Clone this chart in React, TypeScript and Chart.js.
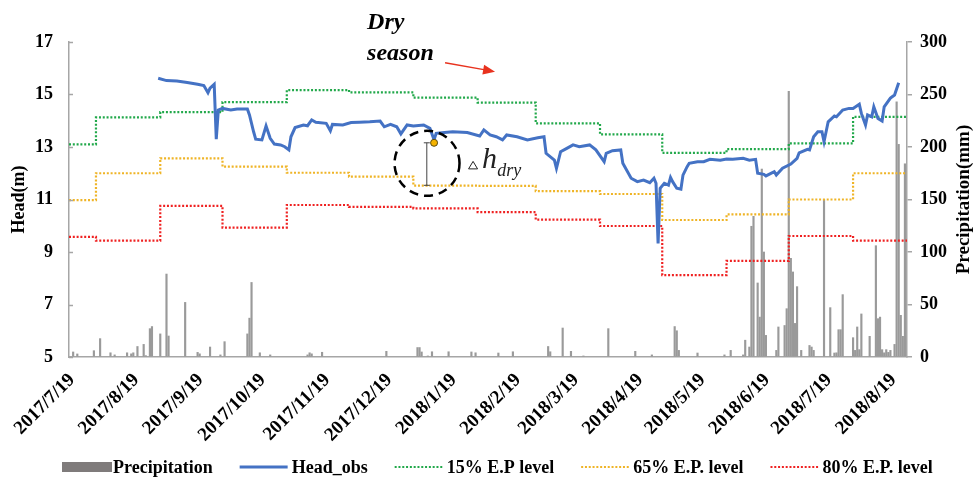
import React, { useEffect, useRef } from 'react';
import { Chart, registerables } from 'chart.js';

Chart.register(...registerables);

const FONT = "'Liberation Serif', 'Times New Roman', serif";

// ---- axis labels / categories ----
const START_DATE = '2017/7/19';
const END_DAY = 404;
const tickLabels = [
  '2017/7/19', '2017/8/19', '2017/9/19', '2017/10/19', '2017/11/19', '2017/12/19', '2018/1/19',
  '2018/2/19', '2018/3/19', '2018/4/19', '2018/5/19', '2018/6/19', '2018/7/19', '2018/8/19',
];
const monthStarts = [
  '2017/7/19', '2017/8/1', '2017/9/1', '2017/10/1', '2017/11/1', '2017/12/1', '2018/1/1',
  '2018/2/1', '2018/3/1', '2018/4/1', '2018/5/1', '2018/6/1', '2018/7/1', '2018/8/1',
];

// ---- exceedance probability levels (m), one per month ----
const ep15 = [13.1, 14.13, 14.33, 14.71, 15.17, 15.08, 14.88, 14.69, 13.9, 13.48, 12.78, 12.92, 13.14, 14.15];
const ep65 = [10.98, 12.0, 12.57, 12.25, 12.02, 11.87, 11.53, 11.52, 11.32, 11.21, 10.22, 10.43, 11.0, 12.0];
const ep80 = [9.58, 9.43, 10.76, 9.93, 10.79, 10.72, 10.66, 10.52, 10.23, 9.99, 8.12, 8.66, 9.61, 9.43];

// ---- observed head (day offset from START_DATE, m) ----
const headDay = [
  43, 47, 52, 57, 62, 65, 67, 68, 70, 71, 72, 74, 78, 81, 86, 87, 89, 90, 93, 95, 97, 99, 102, 104, 106, 107, 109,
  113, 115, 117, 119, 124, 126, 127, 132, 136, 140, 145, 150, 152, 155, 158, 160, 163, 166, 171, 174, 176, 177,
  181, 185, 192, 198, 200, 203, 206, 209, 211, 216, 221, 226, 229, 230, 234, 235, 237, 240, 243, 246, 251, 254,
  258, 259, 262, 266, 267, 271, 274, 277, 280, 282, 283, 284, 285, 287, 289, 290, 291, 293, 295, 296, 298, 299,
  303, 306, 309, 314, 317, 320, 325, 328, 331, 332, 335, 336, 340, 341, 344, 348, 351, 352, 356, 357, 359, 361,
  363, 364, 366, 369, 370, 373, 376, 378, 381, 382, 384, 385, 387, 388, 390, 392, 393, 396, 398, 400,
];
const headVal = [
  15.62, 15.53, 15.51, 15.46, 15.39, 15.34, 15.07, 15.24, 15.39, 13.3, 14.41, 14.47, 14.41, 14.45, 14.45, 14.22,
  13.58, 13.3, 13.27, 13.8, 13.33, 13.11, 13.08, 13.01, 12.89, 13.39, 13.74, 13.84, 13.81, 14.03, 13.94, 13.9,
  13.62, 13.86, 13.84, 13.93, 13.94, 13.96, 13.99, 13.77, 13.86, 13.77, 13.5, 13.84, 13.8, 13.84, 13.71, 13.27,
  13.52, 13.55, 13.58, 13.55, 13.42, 13.65, 13.46, 13.39, 13.27, 13.46, 13.39, 13.27, 13.35, 13.39, 12.76, 12.5,
  12.19, 12.82, 12.95, 13.08, 13.01, 13.08, 12.89, 12.44, 12.76, 12.86, 12.89, 12.38, 11.81, 11.68, 11.74, 11.64,
  11.81, 11.62, 9.33, 11.43, 11.62, 11.55, 11.84, 11.68, 11.43, 11.39, 11.93, 12.25, 12.38, 12.44, 12.44, 12.53,
  12.5, 12.54, 12.53, 12.57, 12.5, 12.53, 12.0, 11.96, 11.9, 12.06, 11.93, 12.19, 12.35, 12.57, 12.78, 12.91,
  12.89, 13.39, 13.58, 13.58, 13.2, 13.96, 14.18, 14.15, 14.41, 14.47, 14.47, 14.63, 14.28, 13.84, 14.22, 14.15,
  14.53, 14.09, 13.99, 14.53, 14.86, 14.98, 15.45,
];

// ---- precipitation (day offset from START_DATE, mm) ----
const precipDay = [
  2, 4, 12, 15, 20, 22, 28, 30, 31, 33, 36, 37, 39, 40, 44, 47, 48, 56, 62, 63, 68, 73, 75, 86, 87, 88, 92, 97,
  115, 116, 117, 122, 153, 168, 169, 170, 173, 175, 183, 194, 196, 207, 214, 231, 232, 238, 242, 248, 260, 273,
  281, 292, 293, 294, 303, 316, 319, 325, 326, 328, 329, 330, 332, 333, 334, 335, 336, 341, 342, 345, 346, 347,
  348, 349, 350, 351, 353, 357, 358, 359, 364, 367, 369, 370, 371, 372, 373, 378, 379, 380, 381, 382, 386, 389,
  390, 391, 392, 393, 394, 395, 396, 398, 399, 400, 401, 402, 403,
];
const precipMm = [
  4.8, 2.9, 6, 17.5, 4, 2, 4, 3, 4, 10, 12, 1.3, 27, 29, 22, 79, 20, 52, 4.4, 3, 9.5, 2, 14.6, 22, 37, 71, 4, 2,
  2, 4, 3, 4.5, 5.4, 9, 9, 4.8, 1, 5, 5, 4.8, 4, 3.8, 5, 10, 5, 27.6, 5.4, 1, 27, 5.4,
  2, 29, 25, 6.3, 3.8, 2, 6.3, 2, 16, 9.5, 124.5, 134, 70.5, 38, 179, 100, 20.6, 6.3, 28.6, 30, 46, 253,
  94, 81, 32, 67, 6.3, 11, 9.5, 6.3, 150, 47, 3.8, 4, 26, 26, 59.4, 18.4, 6.3, 28.6, 7, 41, 19.7, 106,
  36.5, 38, 7, 4, 7, 4.4, 6.3, 12, 243, 202.5, 39.7, 19.7, 184,
];

// ---- annotation anchors (day, head m) ----
const dryTextAt = { day: 143.7, line1: 17.5, line2: 16.31 };
const dryArrow = { fromDay: 181.3, fromHead: 16.21, toDay: 205.4, toHead: 15.87 };
const dhCircle = { day: 172.6, head: 12.38 };
const dhSpan = { day: 172.5, top: 13.16, bottom: 11.54 };
const dhPoint = { day: 176, head: 13.16 };
const dhLabel = { triDay: 194.8, triHead: 12.3, hDay: 199.1, hHead: 12.2, subDay: 206.4, subHead: 11.9 };

const GREEN = '#21a84a';
const YELLOW = '#efb426';
const RED = '#ef2121';
const BLUE = '#4472c4';
const BAR = '#9a9a9a';
const AXIS = '#a6a6a6';

function dayOf(s: string): number {
  const p = (t: string) => t.split('/').map(Number);
  const [y0, m0, d0] = p(START_DATE);
  const [y, m, d] = p(s);
  return Math.round((Date.UTC(y, m - 1, d) - Date.UTC(y0, m0 - 1, d0)) / 86400000);
}

export default function App() {
  const ref = useRef<HTMLCanvasElement>(null);

  useEffect(() => {
    document.body.style.margin = '0';
    const canvas = ref.current!;
    const tickDays = tickLabels.map(dayOf);
    const monthDays = monthStarts.map(dayOf);
    const stepData = (vals: number[]) => [
      ...monthDays.map((d, i) => ({ x: d, y: vals[i] })),
      { x: END_DAY, y: vals[vals.length - 1] },
    ];

    const annot = {
      id: 'annot',
      afterDatasetsDraw(chart: any) {
        const { ctx } = chart;
        const xs = chart.scales.x;
        const ys = chart.scales.y;
        const px = (d: number) => xs.getPixelForValue(d);
        const py = (v: number) => ys.getPixelForValue(v);
        ctx.save();
        // inward tick marks on left axis
        ctx.strokeStyle = AXIS;
        ctx.lineWidth = 1.5;
        ctx.beginPath();
        ys.ticks.forEach((t: any) => {
          const yy = Math.round(py(t.value)) + 0.5;
          ctx.moveTo(ys.right, yy);
          ctx.lineTo(ys.right + 4, yy);
        });
        ctx.stroke();
        // Dry season text
        ctx.fillStyle = '#000';
        ctx.textAlign = 'left';
        ctx.textBaseline = 'alphabetic';
        ctx.font = `italic bold 24px ${FONT}`;
        ctx.fillText('Dry', px(dryTextAt.day), py(dryTextAt.line1));
        ctx.fillText('season', px(dryTextAt.day), py(dryTextAt.line2));
        // arrow
        const ax0 = px(dryArrow.fromDay), ay0 = py(dryArrow.fromHead);
        const ax1 = px(dryArrow.toDay), ay1 = py(dryArrow.toHead);
        const ang = Math.atan2(ay1 - ay0, ax1 - ax0);
        ctx.strokeStyle = '#e8321e';
        ctx.fillStyle = '#e8321e';
        ctx.lineWidth = 1.3;
        ctx.beginPath();
        ctx.moveTo(ax0, ay0);
        ctx.lineTo(ax1 - 10 * Math.cos(ang), ay1 - 10 * Math.sin(ang));
        ctx.stroke();
        ctx.beginPath();
        ctx.moveTo(ax1, ay1);
        ctx.lineTo(ax1 - 12 * Math.cos(ang) + 5 * Math.sin(ang), ay1 - 12 * Math.sin(ang) - 5 * Math.cos(ang));
        ctx.lineTo(ax1 - 12 * Math.cos(ang) - 5 * Math.sin(ang), ay1 - 12 * Math.sin(ang) + 5 * Math.cos(ang));
        ctx.closePath();
        ctx.fill();
        // vertical span
        const sx = px(dhSpan.day), st = py(dhSpan.top), sb = py(dhSpan.bottom);
        ctx.strokeStyle = '#444';
        ctx.lineWidth = 1;
        ctx.beginPath();
        ctx.moveTo(sx, st); ctx.lineTo(sx, sb);
        ctx.moveTo(sx - 3, st); ctx.lineTo(sx + 3, st);
        ctx.moveTo(sx - 3, sb); ctx.lineTo(sx + 3, sb);
        ctx.stroke();
        // dashed circle
        ctx.strokeStyle = '#000';
        ctx.lineWidth = 2.5;
        ctx.setLineDash([9, 6]);
        ctx.beginPath();
        ctx.arc(px(dhCircle.day), py(dhCircle.head), 32.5, 0, Math.PI * 2);
        ctx.stroke();
        ctx.setLineDash([]);
        // point
        ctx.fillStyle = '#f5b300';
        ctx.strokeStyle = '#5a4a10';
        ctx.lineWidth = 1;
        ctx.beginPath();
        ctx.arc(px(dhPoint.day), py(dhPoint.head), 3.5, 0, Math.PI * 2);
        ctx.fill();
        ctx.stroke();
        // delta h label
        ctx.fillStyle = '#222';
        ctx.strokeStyle = '#222';
        const tx = px(dhLabel.triDay), ty = py(dhLabel.triHead);
        ctx.lineWidth = 1;
        ctx.beginPath();
        ctx.moveTo(tx, ty - 4); ctx.lineTo(tx + 4.5, ty + 3.5); ctx.lineTo(tx - 4.5, ty + 3.5); ctx.closePath();
        ctx.stroke();
        ctx.font = `italic 30px ${FONT}`;
        ctx.fillText('h', px(dhLabel.hDay), py(dhLabel.hHead));
        ctx.font = `italic 18px ${FONT}`;
        ctx.fillText('dry', px(dhLabel.subDay), py(dhLabel.subHead));
        ctx.restore();
      },
      afterDraw(chart: any) {
        const { ctx, chartArea } = chart;
        ctx.save();
        // right axis title (reads bottom to top)
        ctx.fillStyle = '#000';
        ctx.font = `bold 19px ${FONT}`;
        ctx.textAlign = 'center';
        ctx.textBaseline = 'middle';
        ctx.translate(chart.scales.y1.right - 10, (chartArea.top + chartArea.bottom) / 2);
        ctx.rotate(-Math.PI / 2);
        ctx.fillText('Precipitation(mm)', 0, 0);
        ctx.restore();

        // legend
        ctx.save();
        ctx.font = `bold 18px ${FONT}`;
        ctx.textBaseline = 'middle';
        ctx.textAlign = 'left';
        let x = 62;
        const cy = 467;
        const sw = 48;
        chart.data.datasets.forEach((ds: any) => {
          if (ds.type === 'bar') {
            ctx.fillStyle = '#7f7b7b';
            ctx.fillRect(x, cy - 5, sw + 2, 10);
            x += sw + 3;
          } else {
            ctx.strokeStyle = ds.borderColor;
            ctx.lineWidth = ds.borderWidth;
            ctx.setLineDash(ds.borderDash || []);
            ctx.beginPath();
            ctx.moveTo(x, cy);
            ctx.lineTo(x + sw, cy);
            ctx.stroke();
            ctx.setLineDash([]);
            x += sw + 4;
          }
          ctx.fillStyle = '#000';
          ctx.fillText(ds.label, x, cy + 1);
          x += ctx.measureText(ds.label).width + 27;
        });
        ctx.restore();
      },
    };

    const tickFont = { family: FONT, size: 18, weight: 'bold' as const };
    const chart = new Chart(canvas, {
      type: 'bar',
      data: {
        datasets: [
          {
            type: 'bar',
            label: 'Precipitation',
            data: precipDay.map((d, i) => ({ x: d, y: precipMm[i] })),
            yAxisID: 'y1',
            backgroundColor: BAR,
            barThickness: 1.5,
            order: 10,
          } as any,
          {
            type: 'line',
            label: 'Head_obs',
            data: headDay.map((d, i) => ({ x: d, y: headVal[i] })),
            yAxisID: 'y',
            borderColor: BLUE,
            backgroundColor: BLUE,
            borderWidth: 3,
            pointRadius: 0,
            tension: 0,
            order: 1,
          },
          {
            type: 'line',
            label: '15% E.P level',
            data: stepData(ep15),
            yAxisID: 'y',
            stepped: true,
            borderColor: GREEN,
            borderWidth: 2.2,
            borderDash: [2, 1.8],
            pointRadius: 0,
            order: 2,
          },
          {
            type: 'line',
            label: '65% E.P. level',
            data: stepData(ep65),
            yAxisID: 'y',
            stepped: true,
            borderColor: YELLOW,
            borderWidth: 2.2,
            borderDash: [2, 1.8],
            pointRadius: 0,
            order: 3,
          },
          {
            type: 'line',
            label: '80% E.P. level',
            data: stepData(ep80),
            yAxisID: 'y',
            stepped: true,
            borderColor: RED,
            borderWidth: 2.2,
            borderDash: [2, 1.8],
            pointRadius: 0,
            order: 4,
          },
        ],
      },
      options: {
        responsive: false,
        animation: false,
        events: [],
        layout: { padding: { top: 42, bottom: 30, left: 0, right: 0 } },
        plugins: { legend: { display: false }, tooltip: { enabled: false } },
        scales: {
          x: {
            type: 'linear',
            min: 0,
            max: END_DAY,
            offset: false,
            afterBuildTicks: (s: any) => {
              s.ticks = tickDays.map((v) => ({ value: v }));
            },
            afterFit: (s: any) => {
              s.height = 92;
            },
            ticks: {
              autoSkip: false,
              minRotation: 45,
              maxRotation: 45,
              padding: 12,
              labelOffset: 3,
              color: '#000',
              font: { family: FONT, size: 19, weight: 'bold' },
              callback: (v: any) => {
                const i = tickDays.indexOf(Number(v));
                return i >= 0 ? tickLabels[i] : '';
              },
            },
            grid: { display: false, drawTicks: false },
            border: { display: true, color: AXIS, width: 1.5 },
          },
          y: {
            position: 'left',
            min: 5,
            max: 17,
            afterFit: (s: any) => {
              s.width = 69;
            },
            ticks: { stepSize: 2, padding: 16, color: '#000', font: tickFont },
            grid: { display: false, drawTicks: false },
            border: { display: true, color: AXIS, width: 1.5 },
            title: {
              display: true,
              text: 'Head(m)',
              color: '#000',
              font: { family: FONT, size: 18, weight: 'bold' },
              padding: { top: 9, bottom: 0 },
            },
          },
          y1: {
            position: 'right',
            min: 0,
            max: 300,
            afterFit: (s: any) => {
              s.width = 67;
            },
            ticks: { stepSize: 50, padding: 8, color: '#000', font: tickFont },
            grid: { display: true, drawOnChartArea: false, drawTicks: true, tickLength: 5, color: AXIS, lineWidth: 1.5 },
            border: { display: true, color: AXIS, width: 1.5 },
          },
        },
      },
      plugins: [annot],
    });
    return () => chart.destroy();
  }, []);

  return (
    <div style={{ width: 974, height: 479, background: '#fff' }}>
      <canvas ref={ref} width={974} height={479} style={{ display: 'block' }} />
    </div>
  );
}
